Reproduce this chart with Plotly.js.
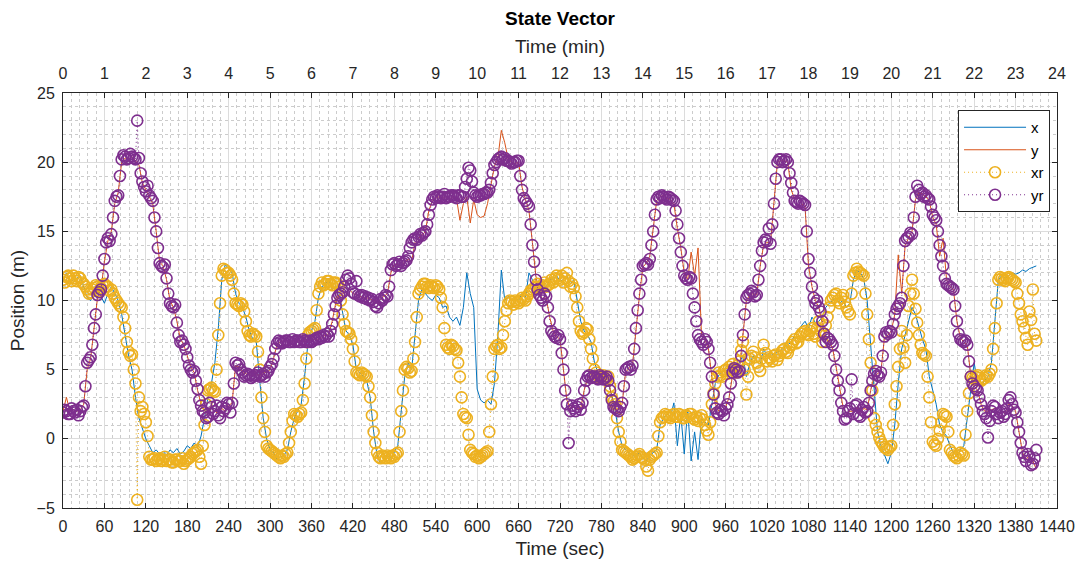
<!DOCTYPE html>
<html>
<head>
<meta charset="utf-8">
<script src="https://cdn.plot.ly/plotly-3.0.1.min.js"></script>
<style>html,body{margin:0;padding:0;background:#fff;}#chart{width:1083px;height:565px;}</style>
</head>
<body>
<div id="chart"></div>
<script>
// time (sec) for the measured x, y
const timeSec = [
0,5,10,15,20,25,30,35,40,45,50,55,
60,65,70,75,80,85,90,95,100,105,110,115,
120,125,130,135,140,145,150,155,160,165,170,175,
180,185,190,195,200,205,210,215,220,225,230,235,
240,245,250,255,260,265,270,275,280,285,290,295,
300,305,310,315,320,325,330,335,340,345,350,355,
360,365,370,375,380,385,390,395,400,405,410,415,
420,425,430,435,440,445,450,455,460,465,470,475,
480,485,490,495,500,505,510,515,520,525,530,535,
540,545,550,555,560,565,570,575,580,585,590,595,
600,605,610,615,620,625,630,635,640,645,650,655,
660,665,670,675,680,685,690,695,700,705,710,715,
720,725,730,735,740,745,750,755,760,765,770,775,
780,785,790,795,800,805,810,815,820,825,830,835,
840,845,850,855,860,865,870,875,880,885,890,895,
900,905,910,915,920,925,930,935,940,945,950,955,
960,965,970,975,980,985,990,995,1000,1005,1010,1015,
1020,1025,1030,1035,1040,1045,1050,1055,1060,1065,1070,1075,
1080,1085,1090,1095,1100,1105,1110,1115,1120,1125,1130,1135,
1140,1145,1150,1155,1160,1165,1170,1175,1180,1185,1190,1195,
1200,1205,1210,1215,1220,1225,1230,1235,1240,1245,1250,1255,
1260,1265,1270,1275,1280,1285,1290,1295,1300,1305,1310,1315,
1320,1325,1330,1335,1340,1345,1350,1355,1360,1365,1370,1375,
1380,1385,1390,1395,1400,1405,1410
];

// x (measured)
const xVals = [
11.4,12.0,11.3,11.5,11.6,11.8,11.0,10.2,10.0,10.6,10.8,10.3,
9.8,10.5,11.0,10.5,10.0,9.0,7.5,6.0,5.0,3.0,1.5,0.8,
0.0,-0.5,-1.0,-0.8,-1.1,-0.9,-1.2,-0.8,-1.0,-0.7,-1.1,-0.9,
-0.5,-0.7,-0.3,-0.6,0.2,1.5,3.0,4.0,5.5,8.0,11.5,12.6,
12.3,12.0,10.5,9.8,9.5,8.8,7.8,7.2,7.0,4.5,1.5,0.0,
-0.8,-1.0,-1.5,-1.3,-1.2,-0.8,0.5,1.5,2.0,2.5,4.5,7.0,
7.8,8.5,10.2,11.0,11.2,11.5,10.8,11.0,10.5,9.0,7.8,7.5,
6.8,5.0,4.8,4.5,4.2,3.0,0.5,-1.2,-1.8,-1.5,-1.2,-1.4,
-1.0,-0.5,2.0,4.5,5.5,5.0,7.5,10.0,10.8,10.5,10.2,10.0,
10.4,10.2,9.5,9.6,8.8,8.5,8.8,8.2,9.5,12.0,10.5,9.5,
3.6,2.8,2.6,2.8,2.5,4.0,7.5,12.2,10.0,10.3,10.0,10.2,
10.0,10.5,10.2,12.0,11.5,10.5,11.5,11.2,11.0,11.5,11.6,11.8,
11.4,11.5,11.8,11.2,11.5,10.0,8.5,7.8,7.5,7.0,5.5,4.8,
4.4,4.2,4.0,3.2,2.0,0.5,-0.5,-0.8,-1.0,-1.2,-1.3,-1.0,
-1.4,-1.6,-1.2,-1.0,-0.8,1.0,1.5,1.8,1.6,2.6,-0.5,1.8,
-1.1,2.2,-1.6,0.5,-1.5,1.5,1.2,1.0,2.5,4.0,4.6,4.8,
5.0,4.8,5.0,5.2,5.5,6.0,4.5,5.5,6.0,5.6,5.4,6.5,
6.0,6.2,6.0,6.3,6.4,6.6,6.8,7.0,7.5,7.8,8.2,8.5,
8.0,8.8,8.4,8.5,8.8,9.5,9.8,10.0,10.2,9.8,10.0,9.5,
9.8,11.5,12.2,12.0,11.6,10.0,7.0,3.5,0.5,-0.5,-1.2,-1.8,
-1.0,1.0,4.0,6.5,7.5,8.5,9.5,9.0,8.0,7.2,6.5,4.5,
3.5,2.5,1.0,0.5,0.2,-0.5,-1.0,-1.2,-0.8,-0.5,1.5,3.5,
5.5,4.0,3.8,4.2,4.5,5.5,8.5,11.5,11.8,11.6,11.8,12.0,
11.9,12.0,12.2,12.1,12.3,12.4,12.5
];

// y (measured)
const yVals = [
2.0,3.0,2.0,2.1,2.0,2.1,2.5,5.0,5.8,8.0,10.2,10.8,
12.8,14.3,15.0,17.0,17.8,20.0,20.3,20.2,20.4,20.1,19.8,18.5,
18.0,17.5,17.0,15.0,12.8,12.5,11.5,10.0,9.5,8.5,7.2,6.8,
6.0,5.2,4.8,3.5,2.5,2.0,1.8,2.2,2.0,1.8,2.2,2.0,
2.4,2.6,5.3,5.2,4.8,4.7,4.6,4.6,4.7,4.6,4.8,4.8,
5.0,5.8,6.8,7.0,7.1,7.1,7.0,7.1,7.1,7.1,7.0,7.1,
7.1,7.2,7.2,7.3,7.5,7.6,8.5,9.8,10.3,10.5,10.6,10.8,
10.5,10.4,10.3,10.2,10.2,10.1,10.0,9.8,10.1,10.3,10.5,12.0,
12.6,12.6,12.5,12.8,13.0,12.8,14.2,14.5,14.7,15.0,16.5,17.2,
17.4,17.5,17.4,17.5,17.3,17.5,17.4,15.8,17.0,17.5,15.6,17.3,
16.2,16.0,16.1,17.0,18.5,19.7,20.3,22.3,21.4,20.2,20.0,19.9,
20.0,18.2,17.3,16.5,14.2,11.8,10.5,10.1,10.2,8.8,7.8,7.4,
7.2,5.0,2.8,2.2,2.3,2.2,2.2,3.5,4.4,4.5,4.4,4.5,
4.4,4.5,4.3,3.0,2.3,2.1,2.5,4.8,5.1,5.3,8.0,10.3,
12.4,12.7,13.2,15.2,17.2,17.5,17.6,17.4,17.3,17.0,15.2,13.8,
12.0,11.5,13.5,11.8,13.8,7.5,7.2,6.5,4.6,2.5,2.0,2.1,
2.3,3.0,4.6,4.9,5.0,7.5,10.0,10.4,10.5,10.4,12.5,14.0,
14.2,14.2,17.2,20.0,20.1,20.1,20.0,18.0,17.3,17.5,17.0,16.8,
12.5,11.0,10.0,9.5,8.3,7.2,7.1,6.5,5.2,3.8,2.3,1.8,
2.0,2.0,2.3,1.8,2.2,2.1,3.5,4.5,4.7,4.9,7.3,7.5,
7.8,9.0,13.3,10.5,14.0,14.5,15.0,17.3,17.8,17.7,17.5,17.2,
16.0,15.5,13.2,14.5,11.5,11.0,10.8,8.5,7.3,7.0,6.8,4.6,
3.8,3.5,2.5,2.0,2.0,2.1,2.2,1.7,2.0,1.9,2.5,2.4,
2.0,0.5,-1.0,-1.5,-1.2,-1.6,-2.2
];

// time (sec) for the reference xr, yr
const timeRef = [
0,2.5,5,7.5,10,12.5,15,17.5,20,22.5,25,27.5,30,32.5,35,37.5,40,42.5,45,47.5,50,52.5,55,57.5,
60,62.5,65,67.5,70,72.5,75,77.5,80,82.5,85,87.5,90,92.5,95,97.5,100,102.5,105,107.5,110,112.5,115,117.5,
120,122.5,125,127.5,130,132.5,135,137.5,140,142.5,145,147.5,150,152.5,155,157.5,160,162.5,165,167.5,170,172.5,175,177.5,
180,182.5,185,187.5,190,192.5,195,197.5,200,202.5,205,207.5,210,212.5,215,217.5,220,222.5,225,227.5,230,232.5,235,237.5,
240,242.5,245,247.5,250,252.5,255,257.5,260,262.5,265,267.5,270,272.5,275,277.5,280,282.5,285,287.5,290,292.5,295,297.5,
300,302.5,305,307.5,310,312.5,315,317.5,320,322.5,325,327.5,330,332.5,335,337.5,340,342.5,345,347.5,350,352.5,355,357.5,
360,362.5,365,367.5,370,372.5,375,377.5,380,382.5,385,387.5,390,392.5,395,397.5,400,402.5,405,407.5,410,412.5,415,417.5,
420,422.5,425,427.5,430,432.5,435,437.5,440,442.5,445,447.5,450,452.5,455,457.5,460,462.5,465,467.5,470,472.5,475,477.5,
480,482.5,485,487.5,490,492.5,495,497.5,500,502.5,505,507.5,510,512.5,515,517.5,520,522.5,525,527.5,530,532.5,535,537.5,
540,542.5,545,547.5,550,552.5,555,557.5,560,562.5,565,567.5,570,572.5,575,577.5,580,582.5,585,587.5,590,592.5,595,597.5,
600,602.5,605,607.5,610,612.5,615,617.5,620,622.5,625,627.5,630,632.5,635,637.5,640,642.5,645,647.5,650,652.5,655,657.5,
660,662.5,665,667.5,670,672.5,675,677.5,680,682.5,685,687.5,690,692.5,695,697.5,700,702.5,705,707.5,710,712.5,715,717.5,
720,722.5,725,727.5,730,732.5,735,737.5,740,742.5,745,747.5,750,752.5,755,757.5,760,762.5,765,767.5,770,772.5,775,777.5,
780,782.5,785,787.5,790,792.5,795,797.5,800,802.5,805,807.5,810,812.5,815,817.5,820,822.5,825,827.5,830,832.5,835,837.5,
840,842.5,845,847.5,850,852.5,855,857.5,860,862.5,865,867.5,870,872.5,875,877.5,880,882.5,885,887.5,890,892.5,895,897.5,
900,902.5,905,907.5,910,912.5,915,917.5,920,922.5,925,927.5,930,932.5,935,937.5,940,942.5,945,947.5,950,952.5,955,957.5,
960,962.5,965,967.5,970,972.5,975,977.5,980,982.5,985,987.5,990,992.5,995,997.5,1000,1002.5,1005,1007.5,1010,1012.5,1015,1017.5,
1020,1022.5,1025,1027.5,1030,1032.5,1035,1037.5,1040,1042.5,1045,1047.5,1050,1052.5,1055,1057.5,1060,1062.5,1065,1067.5,1070,1072.5,1075,1077.5,
1080,1082.5,1085,1087.5,1090,1092.5,1095,1097.5,1100,1102.5,1105,1107.5,1110,1112.5,1115,1117.5,1120,1122.5,1125,1127.5,1130,1132.5,1135,1137.5,
1140,1142.5,1145,1147.5,1150,1152.5,1155,1157.5,1160,1162.5,1165,1167.5,1170,1172.5,1175,1177.5,1180,1182.5,1185,1187.5,1190,1192.5,1195,1197.5,
1200,1202.5,1205,1207.5,1210,1212.5,1215,1217.5,1220,1222.5,1225,1227.5,1230,1232.5,1235,1237.5,1240,1242.5,1245,1247.5,1250,1252.5,1255,1257.5,
1260,1262.5,1265,1267.5,1270,1272.5,1275,1277.5,1280,1282.5,1285,1287.5,1290,1292.5,1295,1297.5,1300,1302.5,1305,1307.5,1310,1312.5,1315,1317.5,
1320,1322.5,1325,1327.5,1330,1332.5,1335,1337.5,1340,1342.5,1345,1347.5,1350,1352.5,1355,1357.5,1360,1362.5,1365,1367.5,1370,1372.5,1375,1377.5,
1380,1382.5,1385,1387.5,1390,1392.5,1395,1397.5,1400,1402.5,1405,1407.5,1410
];

// xr (reference)
const xrVals = [
11.5,11.3,11.7,11.8,11.6,11.4,11.8,11.6,11.4,11.7,11.6,11.3,11.2,11.0,10.8,10.5,10.6,10.8,10.9,11.1,11.0,10.7,10.9,11.1,
11.2,11.0,11.0,10.7,10.8,10.5,10.2,10.0,9.8,9.6,9.5,8.8,8.0,7.0,6.3,6.0,6.1,5.0,4.0,-4.4,3.0,2.0,2.3,1.8,
1.2,0.2,-1.3,-1.5,-1.5,-1.4,-1.6,-1.5,-1.4,-1.6,-1.5,-1.3,-1.6,-1.5,-1.5,-1.7,-1.7,-1.5,-1.5,-1.6,-1.6,-1.4,-1.8,-1.6,
-1.5,-1.4,-1.3,-1.1,-1.0,-0.9,-0.8,-1.3,-1.8,-0.5,1.0,2.5,3.5,3.6,3.7,3.5,3.4,5.0,7.5,9.8,11.8,12.3,12.2,12.0,
12.0,11.8,11.5,10.5,9.8,9.7,9.6,9.8,9.7,9.2,8.5,7.8,7.5,7.4,7.6,7.5,7.4,6.3,5.0,3.0,1.5,0.5,-0.5,-0.7,
-0.8,-0.9,-1.0,-1.1,-1.2,-1.3,-1.4,-1.2,-1.3,-1.1,-1.0,-0.3,0.5,1.3,1.8,1.7,1.6,1.8,1.9,2.8,4.0,5.8,7.5,7.7,
7.8,7.9,8.0,9.3,10.5,11.0,11.3,11.1,11.2,11.4,11.4,11.2,11.1,11.3,11.3,11.2,11.0,10.0,9.0,8.3,7.8,7.7,7.6,7.2,
6.5,5.6,4.8,4.7,4.6,4.8,4.7,4.6,4.5,3.8,3.0,1.7,0.5,-0.3,-1.0,-1.3,-1.4,-1.2,-1.3,-1.4,-1.2,-1.3,-1.4,-1.2,
-1.3,-1.1,-1.0,0.5,2.0,3.5,5.0,5.2,5.1,4.8,4.9,5.8,7.0,8.8,10.5,10.8,11.0,11.2,11.2,11.0,10.9,11.1,11.0,10.9,
11.1,11.0,10.8,10.2,9.5,8.0,6.8,6.6,6.5,6.8,6.7,6.5,6.4,5.5,4.5,3.0,1.8,1.6,1.5,0.3,-0.8,-1.0,-1.1,-1.3,
-1.2,-1.4,-1.3,-1.2,-1.1,-1.0,-0.9,0.5,2.5,4.5,6.5,6.7,6.8,6.5,6.6,7.5,8.5,9.3,9.8,10.0,9.9,9.7,10.0,9.9,
9.8,10.0,10.2,10.1,10.0,10.3,10.5,10.7,10.8,10.9,11.0,11.2,10.9,11.0,11.1,11.3,11.0,11.1,11.2,11.5,11.3,11.6,11.8,11.6,
11.5,11.8,11.3,11.6,12.0,11.4,11.0,11.2,10.9,10.3,9.5,8.5,7.8,7.6,7.7,8.0,7.9,7.2,6.5,5.8,5.0,4.8,4.6,4.4,
4.5,4.6,4.4,4.3,4.5,3.8,3.0,2.7,2.5,1.5,0.5,-0.2,-0.8,-0.9,-1.0,-1.1,-1.2,-1.3,-1.5,-1.4,-1.3,-1.2,-1.1,-1.3,
-1.4,-1.5,-2.0,-2.3,-1.5,-1.3,-1.2,-1.1,-1.0,0.2,1.2,1.5,1.6,1.8,1.7,1.6,1.5,1.7,1.8,1.6,1.6,1.8,1.7,1.5,
1.5,1.7,1.6,1.8,1.8,1.5,1.4,1.6,1.3,1.5,1.7,1.4,1.0,0.6,0.3,1.2,2.5,3.3,4.0,4.5,4.8,4.6,4.5,4.9,
5.0,4.7,5.2,5.0,5.4,5.1,4.8,5.3,5.6,6.4,7.0,5.0,3.2,4.5,5.8,6.0,6.3,5.9,5.5,5.2,4.9,5.8,6.8,6.2,
5.6,5.9,5.8,5.6,6.0,6.1,5.7,6.0,6.2,6.4,6.5,6.3,6.2,6.6,6.8,7.0,7.2,6.9,7.0,7.4,7.6,7.7,7.8,7.6,
7.5,7.8,8.0,7.6,7.4,8.0,8.5,7.8,7.0,7.6,8.2,8.8,9.5,10.0,10.2,10.4,10.5,10.0,9.8,10.2,10.4,9.9,9.5,9.2,
9.0,10.5,11.8,12.0,12.3,12.1,12.0,11.9,11.8,10.5,9.0,7.2,5.5,3.5,1.5,1.0,0.5,0.1,-0.2,-0.4,-0.6,-0.7,-0.8,-0.6,
-0.5,1.0,2.5,3.8,5.2,6.5,7.8,6.6,5.5,7.5,9.6,10.5,11.5,10.5,9.4,8.4,7.5,6.8,6.2,6.1,6.0,4.5,3.0,1.2,
-0.2,-0.4,-0.5,0.0,0.6,1.2,1.8,1.7,1.6,0.5,-0.8,-1.0,-1.2,-1.3,-1.4,-1.2,-1.0,-1.1,-1.2,0.3,2.0,3.3,4.5,4.4,
4.3,4.5,4.6,4.4,4.2,4.3,4.4,4.6,4.5,4.7,5.0,6.5,8.0,9.8,11.5,11.7,11.6,11.5,11.4,11.6,11.7,11.6,11.5,11.4,
11.3,10.5,9.8,9.0,8.5,8.0,7.3,6.8,9.2,8.6,10.8,7.6,7.1
];

// yr (reference)
const yrVals = [
1.9,2.1,2.0,1.8,1.8,2.2,2.0,1.9,2.1,1.7,2.0,2.3,2.4,3.8,5.5,5.7,5.9,6.8,8.0,9.0,10.4,10.6,10.8,11.8,
13.0,14.2,14.5,14.3,14.8,16.0,17.2,17.5,17.6,19.0,20.2,20.5,20.4,20.2,20.3,20.6,20.4,20.3,20.2,23.0,20.3,19.2,18.6,18.2,
17.9,18.3,17.6,17.4,17.2,16.0,15.0,13.8,12.7,12.5,12.4,12.6,11.6,10.5,9.8,9.6,9.5,9.7,8.4,7.5,7.0,7.1,6.8,6.5,
5.9,5.3,5.0,4.8,4.9,4.2,3.6,2.8,2.4,2.0,1.9,1.5,1.6,2.6,2.3,1.8,2.0,2.4,1.7,1.5,2.3,2.0,2.2,2.6,
2.5,1.9,2.6,4.0,5.5,5.3,5.4,5.0,4.8,4.5,4.6,4.7,4.6,4.4,4.5,4.6,4.6,4.8,4.5,4.6,4.7,4.5,4.8,4.9,
5.2,5.4,5.8,6.5,6.9,7.1,7.0,6.9,7.0,7.1,7.1,7.0,7.0,7.2,7.0,7.1,7.1,7.0,7.0,7.2,7.1,7.0,7.0,7.1,
7.0,7.1,7.2,7.3,7.2,7.4,7.3,7.5,7.4,7.6,7.4,7.8,8.3,9.0,9.6,10.2,10.4,10.5,10.6,11.0,11.5,11.8,11.6,11.2,
10.6,10.5,11.4,10.4,10.3,10.4,10.2,10.3,10.1,10.2,10.0,10.1,9.9,9.6,9.5,9.8,10.1,10.0,10.2,10.4,10.3,11.0,12.2,12.6,
12.7,12.5,12.6,12.8,12.5,12.7,12.8,12.9,13.2,13.8,14.2,14.4,14.5,14.4,14.6,14.8,14.7,14.9,15.0,15.5,16.2,16.9,17.3,17.5,
17.4,17.6,17.5,17.4,17.5,17.7,17.4,17.5,17.5,17.6,17.6,17.5,17.4,17.6,17.6,17.5,17.5,18.2,18.8,19.6,19.4,18.6,17.8,17.6,
17.5,17.6,17.6,17.7,17.7,17.8,17.8,18.0,18.5,19.2,19.8,20.0,20.2,20.3,20.4,20.2,20.3,20.1,20.1,20.0,19.9,20.0,20.0,20.1,
20.1,19.0,18.0,17.4,17.2,17.0,16.8,15.5,14.0,12.8,11.5,10.8,10.4,10.2,10.0,10.5,10.3,9.5,8.5,7.8,7.6,7.4,7.3,7.5,
7.2,6.2,5.0,3.5,2.5,-0.3,2.0,2.4,2.2,2.0,2.3,2.5,2.1,2.6,3.5,4.2,4.5,4.6,4.4,4.5,4.5,4.4,4.3,4.6,
4.5,4.3,4.4,4.5,4.2,3.5,2.8,2.3,2.2,2.1,2.0,2.3,2.6,3.8,5.0,5.1,5.2,5.0,5.3,6.5,8.0,9.3,10.5,11.5,
12.5,12.6,12.7,12.6,13.0,14.0,15.0,16.2,17.3,17.5,17.4,17.6,17.5,17.4,17.3,17.5,17.4,17.3,17.2,16.5,15.5,14.5,13.5,12.5,
11.8,11.6,11.5,11.7,11.6,10.5,9.5,8.5,7.5,7.2,7.0,6.8,7.2,7.0,6.5,5.5,4.5,3.2,2.2,1.9,1.8,2.1,2.0,1.7,
2.2,2.5,3.0,4.0,4.8,5.1,5.0,4.8,4.9,6.0,7.5,9.0,10.2,10.4,10.5,10.7,10.6,10.3,10.4,11.5,12.5,13.6,14.2,14.4,
14.3,15.2,14.1,15.5,17.0,18.8,20.0,20.2,20.2,20.0,20.1,20.2,20.0,19.2,18.5,17.8,17.2,17.1,17.0,17.2,17.1,17.0,16.9,15.0,
13.0,12.0,11.0,10.2,9.8,10.0,9.5,9.2,8.5,7.6,7.0,7.3,7.2,7.0,6.8,6.0,5.0,4.2,3.5,2.6,2.0,1.4,1.5,2.0,
2.2,4.3,1.8,2.4,2.5,1.7,1.6,2.1,2.3,1.9,2.0,2.6,3.5,4.2,4.7,4.9,4.6,4.5,4.8,6.0,7.4,7.7,7.6,7.8,
7.7,8.3,9.0,9.4,9.6,9.8,10.2,12.5,14.3,14.5,14.6,14.9,14.8,16.0,17.5,18.3,18.0,17.7,17.8,17.5,17.6,17.4,17.3,16.8,
16.2,16.0,15.8,15.0,14.0,13.2,12.5,11.6,11.2,11.1,11.0,10.9,10.8,9.6,8.5,7.6,7.2,7.1,7.0,7.1,6.8,5.6,4.5,4.0,
3.8,3.6,3.5,3.0,2.5,2.0,1.8,1.5,0.1,1.3,2.0,2.4,2.3,1.8,1.5,1.9,2.0,1.6,1.8,2.2,2.8,3.0,2.5,2.1,
1.9,1.2,0.5,-0.3,-1.0,-1.3,-1.6,-1.1,-1.3,-1.9,-1.8,-1.4,-0.8
];

// axis ticks
const secTicks = [0,60,120,180,240,300,360,420,480,540,600,660,720,780,840,900,960,1020,1080,1140,1200,1260,1320,1380,1440];
const minTicks = [0,1,2,3,4,5,6,7,8,9,10,11,12,13,14,15,16,17,18,19,20,21,22,23,24];
const posTicks = [-5,0,5,10,15,20,25];

const FONT = 'Liberation Sans, Arial, Helvetica, sans-serif';
const TXT = '#262626';

const traces = [
  {x: timeSec, y: xVals, name: 'x', type: 'scatter', mode: 'lines',
   line: {color: '#0072BD', width: 1}},
  {x: timeSec, y: yVals, name: 'y', type: 'scatter', mode: 'lines',
   line: {color: '#D95319', width: 1}},
  {x: timeRef, y: xrVals, name: 'xr', type: 'scatter', mode: 'lines+markers',
   line: {color: '#EDB120', width: 1, dash: '1px,3px'},
   marker: {symbol: 'circle-open', size: 11, color: '#EDB120', line: {width: 1.6}}},
  {x: timeRef, y: yrVals, name: 'yr', type: 'scatter', mode: 'lines+markers',
   line: {color: '#7E2F8E', width: 1, dash: '1px,3px'},
   marker: {symbol: 'circle-open', size: 11, color: '#7E2F8E', line: {width: 1.6}}},
  // carrier for the top (minutes) axis
  {x: [minTicks[0], minTicks[minTicks.length-1]], y: [null, null], xaxis: 'x2', yaxis: 'y',
   type: 'scatter', mode: 'lines', showlegend: false, hoverinfo: 'skip'}
];

const layout = {
  width: 1083, height: 565,
  margin: {l: 63, r: 26, t: 93, b: 57},
  paper_bgcolor: '#ffffff', plot_bgcolor: '#ffffff',
  font: {family: FONT, size: 16, color: TXT},
  title: {text: '<b>State Vector</b>', x: 0.5, xref: 'paper', y: 1 - 18/565, yref: 'container',
          xanchor: 'center', yanchor: 'middle', font: {size: 19, color: '#000'}},
  showlegend: true,
  legend: {x: 0.993, y: 0.959, xanchor: 'right', yanchor: 'top', bgcolor: '#ffffff',
           bordercolor: TXT, borderwidth: 1, font: {size: 15, color: '#000'},
           tracegroupgap: 0, itemwidth: 62},
  xaxis: {
    range: [0, 1440], tickvals: secTicks, ticktext: secTicks.map(String),
    ticks: 'inside', ticklen: 5, tickwidth: 1, tickcolor: TXT,
    showline: true, linecolor: TXT, linewidth: 1, mirror: true,
    showgrid: true, gridcolor: '#dcdcdc', gridwidth: 1, zeroline: false,
    minor: {dtick: 12, showgrid: true, gridcolor: '#cccccc', griddash: 'dot', gridwidth: 1, ticks: ''},
    ticklabelstandoff: 4,
    title: {text: 'Time (sec)', font: {size: 19}, standoff: 7}
  },
  xaxis2: {
    overlaying: 'x', side: 'top', anchor: 'y', range: [0, 24], tickvals: minTicks,
    ticks: 'inside', ticklen: 5, tickwidth: 1, tickcolor: TXT,
    showline: false, showgrid: false, zeroline: false,
    ticklabelstandoff: 10,
    title: {text: 'Time (min)', font: {size: 19}, standoff: 6}
  },
  yaxis: {
    range: [-5, 25], tickvals: posTicks,
    ticks: 'inside', ticklen: 5, tickwidth: 1, tickcolor: TXT,
    showline: true, linecolor: TXT, linewidth: 1, mirror: 'ticks',
    showgrid: true, gridcolor: '#dcdcdc', gridwidth: 1, zeroline: false,
    minor: {dtick: 1, showgrid: true, gridcolor: '#cccccc', griddash: 'dot', gridwidth: 1, ticks: ''},
    ticklabelstandoff: 4,
    title: {text: 'Position (m)', font: {size: 19}, standoff: 6}
  }
};

Plotly.newPlot('chart', traces, layout, {displayModeBar: false, staticPlot: true});
</script>
</body>
</html>
